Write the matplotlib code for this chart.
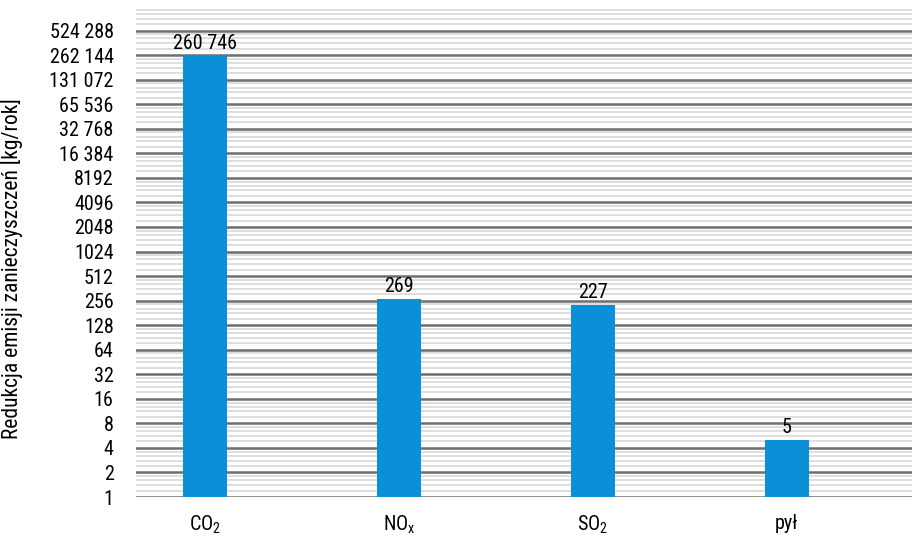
import numpy as np
import matplotlib.pyplot as plt
from matplotlib.ticker import FixedLocator, FixedFormatter

plt.rcParams['font.family'] = ['Roboto Condensed', 'DejaVu Sans']
plt.rcParams['mathtext.fontset'] = 'custom'
plt.rcParams['mathtext.rm'] = 'Roboto Condensed'

categories = ['CO$_\\mathregular{2}$', 'NO$_\\mathregular{x}$', 'SO$_\\mathregular{2}$', 'pył']
values = [260746, 269, 227, 5]
value_labels = ['260 746', '269', '227', '5']
ytick_values = [2 ** k for k in range(20)]
ytick_labels = ['1', '2', '4', '8', '16', '32', '64', '128', '256', '512', '1024',
                '2048', '4096', '8192', '16 384', '32 768', '65 536', '131 072',
                '262 144', '524 288']
minor_subs = [1.2, 1.4, 1.6, 1.8]

fig = plt.figure(figsize=(9.18, 5.38), dpi=100)
ax = fig.add_axes([0.148, 0.0762, 0.8455, 0.9095])

x = np.arange(len(categories))
ax.bar(x, values, width=0.227, color='#0a8fd8', zorder=3)

ax.set_yscale('log', base=2)
ax.set_ylim(1, 1.0e6)
ax.set_xlim(-0.355, 3.645)

ax.yaxis.set_major_locator(FixedLocator(ytick_values))
ax.yaxis.set_major_formatter(FixedFormatter(ytick_labels))
minor = [b * s for b in ytick_values for s in minor_subs]
ax.yaxis.set_minor_locator(FixedLocator(minor))
ax.yaxis.set_minor_formatter(FixedFormatter([]))

ax.grid(which='minor', axis='y', color='#dedede', linewidth=1.4, zorder=1)
ax.grid(which='major', axis='y', color='#6e6e6e', linewidth=1.8, zorder=2)

ax.set_xticks(x)
ax.set_xticklabels(categories, fontsize=14.5)
ax.tick_params(axis='y', which='both', labelsize=14.5, length=0, pad=16)
ax.tick_params(axis='x', which='both', length=0, pad=12)
for s in ax.spines.values():
    s.set_visible(False)

for xi, v, lab in zip(x, values, value_labels):
    ax.annotate(lab, (xi, v), xytext=(0, 2), textcoords='offset points',
                ha='center', va='bottom', fontsize=14.5, zorder=4)

ax.set_ylabel('Redukcja emisji zanieczyszczeń [kg/rok]', fontsize=15.5)
ax.yaxis.set_label_coords(-0.1456, 0.467)

fig.savefig('out.png', dpi=100)
